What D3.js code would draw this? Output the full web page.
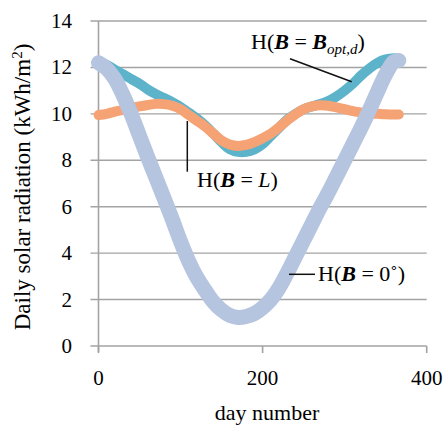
<!DOCTYPE html>
<html>
<head>
<meta charset="utf-8">
<script src="https://cdn.jsdelivr.net/npm/d3@7/dist/d3.min.js"></script>
<style>
  html, body { margin: 0; padding: 0; background: #fff; }
  svg { display: block; }
  text { font-family: "Liberation Serif", "Times New Roman", serif; fill: #000; }
</style>
</head>
<body>
<svg id="chart" width="443" height="425"></svg>
<script>
// ---- data ----
const days = [0,10,20,30,40,50,60,70,80,90,100,110,120,130,140,150,160,170,180,190,200,210,220,230,240,250,260,270,280,290,300,310,320,330,340,350,360,366];
const hFlat = [12.2,11.95,11.5,10.8,9.97,9.05,8.13,7.25,6.35,5.45,4.5,3.65,2.95,2.4,1.9,1.55,1.32,1.23,1.27,1.4,1.65,2.0,2.5,3.15,3.85,4.55,5.25,5.95,6.6,7.3,8.0,8.7,9.4,10.15,10.95,11.7,12.25,12.3];
const hLat  = [9.95,10.0,10.1,10.17,10.25,10.32,10.38,10.43,10.42,10.35,10.2,9.95,9.7,9.45,9.15,8.85,8.68,8.62,8.66,8.78,8.95,9.15,9.42,9.72,9.98,10.2,10.32,10.37,10.35,10.28,10.2,10.12,10.06,10.02,10.0,9.98,9.97,9.97];
const hOpt  = [12.25,12.1,11.9,11.7,11.5,11.3,11.05,10.85,10.68,10.5,10.3,10.05,9.8,9.5,9.15,8.78,8.48,8.36,8.36,8.47,8.7,9.05,9.4,9.75,10.0,10.2,10.32,10.42,10.55,10.75,11.0,11.3,11.65,11.95,12.2,12.35,12.4,12.38];
const xTicks = [0,200,400];
const yTicks = [0,2,4,6,8,10,12,14];
const xTitle = "day number";
const yTitle = "Daily solar radiation (kWh/m";

// ---- layout ----
const svg = d3.select("#chart");
const L = 98.5, R = 426.7, T = 21, B = 346;
const x = d3.scaleLinear().domain([0,400]).range([L,R]);
const y = d3.scaleLinear().domain([0,14]).range([B,T]);
const gridCol = "#a3a3a3";

// gridlines
svg.append("g").selectAll("line").data(yTicks).join("line")
  .attr("x1", L - 8).attr("x2", R)
  .attr("y1", d => y(d)).attr("y2", d => y(d))
  .attr("stroke", gridCol).attr("stroke-width", 1.4);

// y axis line
svg.append("line").attr("x1", L).attr("x2", L).attr("y1", T).attr("y2", B + 6)
  .attr("stroke", gridCol).attr("stroke-width", 1.6);
// x ticks
svg.append("g").selectAll("line").data(xTicks).join("line")
  .attr("x1", d => x(d)).attr("x2", d => x(d)).attr("y1", B).attr("y2", B + 7)
  .attr("stroke", gridCol).attr("stroke-width", 1.6);

// tick labels
svg.append("g").selectAll("text").data(yTicks).join("text")
  .attr("x", 72).attr("y", d => y(d) + 7)
  .attr("text-anchor", "end").attr("font-size", 21).text(d => d);
svg.append("g").selectAll("text").data(xTicks).join("text")
  .attr("x", d => x(d)).attr("y", 385)
  .attr("text-anchor", "middle").attr("font-size", 21).text(d => d);

// axis titles
svg.append("text").attr("x", 267).attr("y", 420).attr("text-anchor", "middle")
  .attr("font-size", 22).text(xTitle);
const yt = svg.append("text").attr("transform", "translate(30,187) rotate(-90)")
  .attr("text-anchor", "middle").attr("font-size", 23);
yt.append("tspan").text(yTitle);
yt.append("tspan").attr("font-size", 15).attr("dy", -8).text("2");
yt.append("tspan").attr("dy", 8).text(")");

// series
const line = d3.line().x(d => x(d[0])).y(d => y(d[1])).curve(d3.curveCatmullRom.alpha(0.5));
const series = [
  {vals: hOpt, color: "#5cb3ca", w: 10},
  {vals: hLat, color: "#f5a374", w: 10},
  {vals: hFlat, color: "#b5c4df", w: 15}
];
series.forEach(s => {
  svg.append("path").datum(days.map((d,i) => [d, s.vals[i]]))
    .attr("d", line).attr("fill", "none")
    .attr("stroke", s.color).attr("stroke-width", s.w)
    .attr("stroke-linecap", "round").attr("stroke-linejoin", "round");
});

// annotations
const ann = svg.append("g").attr("font-size", 22);
function label(xp, yp, parts) {
  const t = ann.append("text").attr("x", xp).attr("y", yp);
  parts.forEach(p => {
    const s = t.append("tspan").text(p.t);
    if (p.b) s.attr("font-weight", "bold");
    if (p.i) s.attr("font-style", "italic");
    if (p.fs) s.attr("font-size", p.fs);
    if (p.dy) s.attr("dy", p.dy);
  });
}
label(251, 49, [{t:"H("},{t:"B",b:1,i:1},{t:" = "},{t:"B",b:1,i:1},{t:"opt,d",i:1,fs:15,dy:5},{t:")",dy:-5}]);
label(197, 187, [{t:"H("},{t:"B",b:1,i:1},{t:" = "},{t:"L",i:1},{t:")"}]);
label(318, 281, [{t:"H("},{t:"B",b:1,i:1},{t:" = 0˚)"}]);

// leader lines
const lead = [[290,58.7,351.7,81.7],[187.3,121,187.3,171.7],[289,274.3,315,274.3]];
svg.append("g").selectAll("line").data(lead).join("line")
  .attr("x1", d => d[0]).attr("y1", d => d[1]).attr("x2", d => d[2]).attr("y2", d => d[3])
  .attr("stroke", "#111").attr("stroke-width", 1.5);
</script>
</body>
</html>
